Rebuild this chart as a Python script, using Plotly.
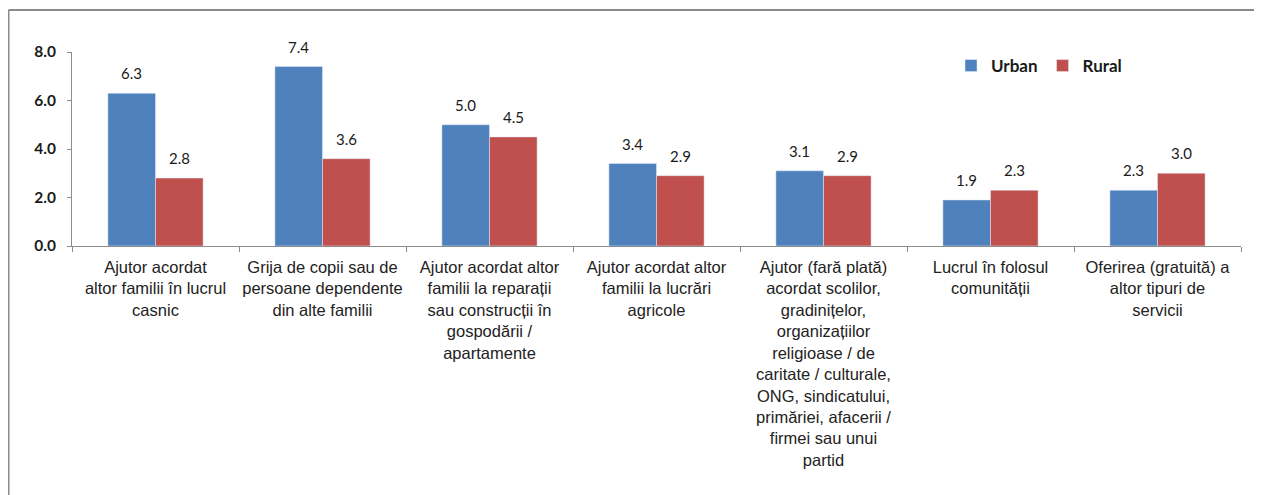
import plotly.graph_objects as go

categories = [
    "Ajutor acordat<br>altor familii în lucrul<br>casnic",
    "Grija de copii sau de<br>persoane dependente<br>din alte familii",
    "Ajutor acordat altor<br>familii la reparații<br>sau construcții în<br>gospodării /<br>apartamente",
    "Ajutor acordat altor<br>familii la lucrări<br>agricole",
    "Ajutor (fară plată)<br>acordat scolilor,<br>gradinițelor,<br>organizațiilor<br>religioase / de<br>caritate / culturale,<br>ONG, sindicatului,<br>primăriei, afacerii /<br>firmei sau unui<br>partid",
    "Lucrul în folosul<br>comunității",
    "Oferirea (gratuită) a<br>altor tipuri de<br>servicii",
]
urban = [6.3, 7.4, 5.0, 3.4, 3.1, 1.9, 2.3]
rural = [2.8, 3.6, 4.5, 2.9, 2.9, 2.3, 3.0]
series_names = ["Urban", "Rural"]
y_ticks = [0, 2, 4, 6, 8]

BLUE = "#4F81BD"
RED = "#C0504D"

# page body has an 8px default margin; work in screen coordinates
OFF = 8
SW, SH = 1262, 495
W, H = SW - OFF, SH - OFF
plot_left, plot_right, plot_top, plot_bottom = 72, 1241, 52, 246
ml = plot_left - OFF
mr = W - (plot_right - OFF)
mt = plot_top - OFF
mb = H - (plot_bottom - OFF)
pw = plot_right - plot_left
ph = plot_bottom - plot_top

fig = go.Figure()
fig.add_trace(go.Bar(x=categories, y=urban, name=series_names[0], marker_color=BLUE))
fig.add_trace(go.Bar(x=categories, y=rural, name=series_names[1], marker_color=RED))

cat_w = pw / len(categories)
bargap = 0.43
bar_w = cat_w * (1 - bargap) / 2
for vals, sign in ((urban, -1), (rural, 1)):
    for c, v in zip(categories, vals):
        fig.add_annotation(
            x=c, y=v, xref="x", yref="y", text=f"{v:.1f}", showarrow=False,
            xshift=sign * bar_w / 2, yshift=20,
            font=dict(family="Lato", size=15, color="#1a1a1a"),
        )

def sx(px):  # screen px -> paper x
    return (px - plot_left) / pw

def sy(py):  # screen px -> paper y
    return (plot_bottom - py) / ph

border_x = sx(8.5)
border_top = sy(10)
border_bot = sy(SH + 20)
fig.add_shape(type="line", xref="paper", yref="paper", x0=border_x, x1=border_x,
              y0=border_bot, y1=border_top, line=dict(color="#8a8a8a", width=2))
fig.add_shape(type="line", xref="paper", yref="paper", x0=border_x, x1=sx(SW + 20),
              y0=border_top, y1=border_top, line=dict(color="#8a8a8a", width=2))

fig.update_layout(
    width=W, height=H,
    margin=dict(l=ml, r=mr, t=mt, b=mb, pad=0),
    paper_bgcolor="white", plot_bgcolor="white",
    barmode="group", bargap=bargap, bargroupgap=0,
    showlegend=True,
    legend=dict(
        orientation="h", x=sx(951), y=sy(66),
        xanchor="left", yanchor="middle",
        font=dict(family="Lato", size=17, color="#1a1a1a", weight="bold"),
        itemwidth=30, tracegroupgap=0, bgcolor="rgba(0,0,0,0)",
    ),
    font=dict(family="Liberation Sans", color="#222222"),
)
fig.update_xaxes(
    type="category", showline=True, linecolor="#8c8c8c", linewidth=1,
    ticks="outside", tickson="boundaries", ticklen=5, tickcolor="#8c8c8c",
    tickfont=dict(family="Liberation Sans", size=16.5, color="#222222"),
    ticklabelstandoff=6,
    tickangle=0, showgrid=False,
)
fig.update_yaxes(
    range=[0, 8], tickvals=y_ticks, tickformat=".1f",
    showline=True, linecolor="#8c8c8c", linewidth=1,
    ticks="outside", ticklen=4, tickcolor="#8c8c8c",
    tickfont=dict(family="Lato", size=15.5, color="#1a1a1a", weight="bold"),
    ticklabelstandoff=8,
    showgrid=False, zeroline=False,
)

fig.write_html("out.html")
